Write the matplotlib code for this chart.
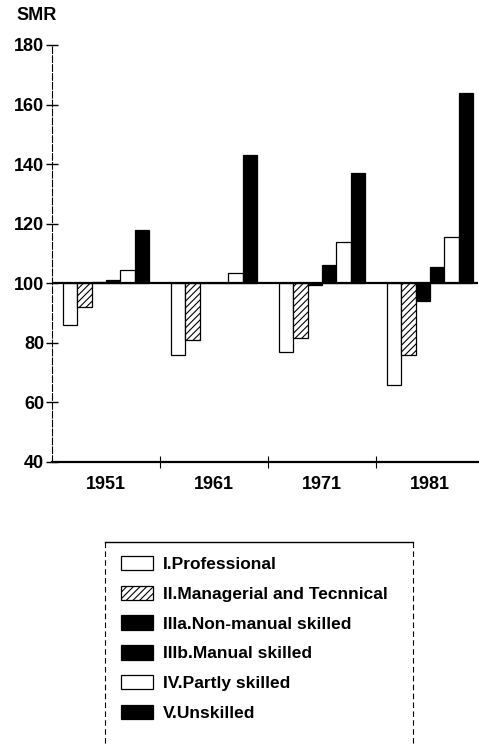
import numpy as np
import matplotlib.pyplot as plt
from matplotlib.lines import Line2D

plt.rcParams['font.family'] = ['Liberation Sans', 'DejaVu Sans']
plt.rcParams['hatch.linewidth'] = 0.8

# Data (SMR by social class)
years = ['1951', '1961', '1971', '1981']
classes = ['I.Professional', 'II.Managerial and Tecnnical', 'IIIa.Non-manual skilled',
           'IIIb.Manual skilled', 'IV.Partly skilled', 'V.Unskilled']
smr_I = [86, 76, 77, 66]
smr_II = [92, 81, 81.5, 76]
smr_IIIa = [100.5, 100, 99.5, 94]
smr_IIIb = [101, 100, 106, 105.5]
smr_IV = [104.5, 103.5, 114, 115.5]
smr_V = [118, 143, 137, 164]
series = [smr_I, smr_II, smr_IIIa, smr_IIIb, smr_IV, smr_V]

faces = ['white', 'white', 'black', 'black', 'white', 'black']
hatches = [None, '/////', None, None, None, None]

W, H = 479, 745
fig = plt.figure(figsize=(W / 100, H / 100), dpi=100)
ax = fig.add_axes([52 / W, 1 - 462 / H, (478 - 52) / W, (462 - 45) / H])

x = np.arange(len(years))
bw = 0.1325
handles = []
for i, vals in enumerate(series):
    vals = np.array(vals)
    b = ax.bar(x + (i - 2.5) * bw, vals - 100, bottom=100, width=bw,
               color=faces[i], edgecolor='black', linewidth=0.9,
               hatch=hatches[i], label=classes[i])
    handles.append(b)

ax.axhline(100, color='black', lw=1.6, zorder=3)

ax.set_xlim(-0.5, -0.5 + 426 / 108)
ax.set_ylim(40, 180)
ax.set_yticks(np.arange(40, 181, 20))
ax.tick_params(axis='y', direction='inout', length=9, width=1, labelsize=13, pad=1)
for lab in ax.get_yticklabels():
    lab.set_fontweight('bold')

ax.set_xticks(x)
ax.set_xticklabels(years, fontsize=13, fontweight='bold')
ax.tick_params(axis='x', which='major', length=0, pad=10)
ax.set_xticks([0.5, 1.5, 2.5], minor=True)
ax.tick_params(axis='x', which='minor', direction='inout', length=9, width=0.8)

for s in ['top', 'right']:
    ax.spines[s].set_visible(False)
ax.spines['bottom'].set_linewidth(1.6)
ax.spines['left'].set_linewidth(0.8)
ax.spines['left'].set_linestyle((0, (6, 2)))

fig.text(37 / W, 1 - 16 / H, 'SMR', ha='center', va='center',
         fontsize=13, fontweight='bold')

# legend frame (bottom runs off the page)
x0, x1, y0 = 105 / W, 413 / W, 1 - 542 / H
fig.add_artist(Line2D([x0, x1], [y0, y0], transform=fig.transFigure, color='black', lw=1))
fig.add_artist(Line2D([x0, x0], [y0, -0.01], transform=fig.transFigure, color='black',
                      lw=0.8, ls=(0, (5, 3))))
fig.add_artist(Line2D([x1, x1], [y0, -0.01], transform=fig.transFigure, color='black',
                      lw=0.8, ls=(0, (5, 3))))

leg = fig.legend(handles, classes, loc='upper left',
                 bbox_to_anchor=(121 / W, 1 - 556 / H), frameon=False,
                 fontsize=12.5, handlelength=1.84, handleheight=0.9,
                 handletextpad=0.57, labelspacing=0.78, borderpad=0,
                 borderaxespad=0)
for t in leg.get_texts():
    t.set_fontweight('bold')

fig.savefig('out.png', dpi=100)
